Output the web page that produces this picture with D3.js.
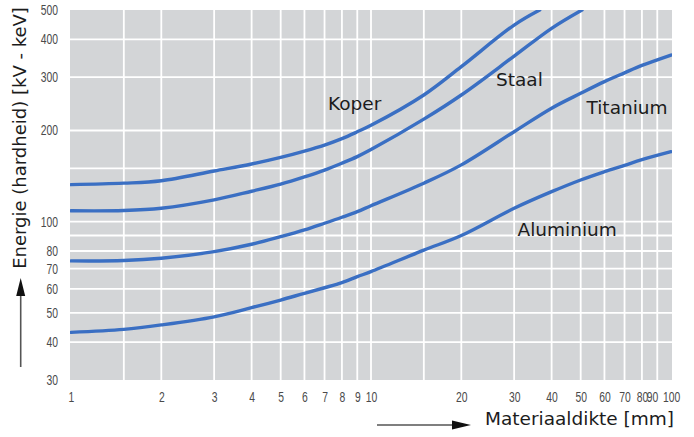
<!DOCTYPE html>
<html>
<head>
<meta charset="utf-8">
<script src="https://cdn.jsdelivr.net/npm/d3@7"></script>
<style>
  html, body { margin: 0; padding: 0; background: #ffffff; }
  svg { display: block; }
</style>
</head>
<body>
<svg id="chart" width="694" height="437"></svg>
<script>
// ---- data ----
const thickness = [1, 1.5, 2, 3, 4, 5, 6, 7, 8, 9, 10, 15, 20, 30, 40, 50, 60, 70, 80, 100];
const aluminium = [43.1, 44.1, 45.6, 48.5, 52, 55.1, 58, 60.5, 62.9, 65.8, 68.4, 80.5, 90, 110.7, 125.6, 137.3, 146.2, 153.5, 160.2, 170.2];
const titanium  = [74.2, 74.4, 75.7, 79.6, 84.2, 89.2, 93.9, 98.8, 103.4, 107.9, 112.9, 134, 154, 198.2, 237, 265.4, 290, 310, 328, 355];
const staalThickness = [1, 1.5, 2, 3, 4, 5, 6, 7, 8, 9, 10, 15, 20, 30, 40, 50.5];
const staal = [108.6, 108.8, 110.7, 118, 126, 133, 140.5, 148, 156, 164, 173, 218, 262, 352, 435, 500];
const koperThickness = [1, 1.5, 2, 3, 4, 5, 6, 7, 8, 9, 10, 15, 20, 30, 36.5];
const koper = [132.5, 134, 136.5, 147, 155, 163, 171, 179, 188, 198, 208, 262, 325, 446, 500];

const xTickValues = [1, 2, 3, 4, 5, 6, 7, 8, 9, 10, 20, 30, 40, 50, 60, 70, 80, 90, 100];
const xGridValues = [1.5, 2, 3, 4, 5, 6, 7, 8, 9, 10, 15, 20, 30, 40, 50, 60, 70, 80, 90];
const yTickValues = [30, 40, 50, 60, 70, 80, 100, 200, 300, 400, 500];
const yGridValues = [40, 50, 60, 70, 80, 90, 100, 150, 200, 300, 400];

const seriesNames = ["Koper", "Staal", "Titanium", "Aluminium"];
const xTitle = "Materiaaldikte [mm]";
const yTitle = "Energie (hardheid) [kV - keV]";

// ---- drawing ----
const svg = d3.select("#chart");
const x = d3.scaleLog().domain([1, 100]).range([71, 671]);
const y = d3.scaleLog().domain([30, 500]).range([380, 10]);

const [x0, x1] = x.range();
const [yb, yt] = y.range();

svg.append("defs").append("clipPath").attr("id", "plotclip")
  .append("rect").attr("x", x0 - 1).attr("y", yt).attr("width", x1 - x0 + 2).attr("height", yb - yt);

svg.append("rect")
  .attr("x", x0 - 1).attr("y", yt)
  .attr("width", x1 - x0 + 2).attr("height", yb - yt)
  .attr("fill", "#d3d5d7");

const grid = svg.append("g").attr("stroke", "#ffffff").attr("stroke-width", 1.8);
grid.selectAll("line.v").data(xGridValues).join("line")
  .attr("class", "v")
  .attr("x1", d => x(d)).attr("x2", d => x(d))
  .attr("y1", yt).attr("y2", yb);
grid.selectAll("line.h").data(yGridValues).join("line")
  .attr("class", "h")
  .attr("x1", x0 - 1).attr("x2", x1 + 1)
  .attr("y1", d => y(d)).attr("y2", d => y(d));

const line = d3.line().x(d => x(d[0])).y(d => y(d[1])).curve(d3.curveCatmullRom.alpha(0.5));
const series = [
  d3.zip(koperThickness, koper),
  d3.zip(staalThickness, staal),
  d3.zip(thickness, titanium),
  d3.zip(thickness, aluminium)
];
svg.append("g").attr("clip-path", "url(#plotclip)")
  .selectAll("path").data(series).join("path")
  .attr("d", line)
  .attr("fill", "none")
  .attr("stroke", "#3a6fc3")
  .attr("stroke-width", 3.4)
  .attr("stroke-linecap", "round");

// axes (condensed-looking tick labels: horizontally squeezed Liberation Sans)
const tickFont = "'Liberation Sans', Arial, sans-serif";
const squeeze = 0.74;
const xAxis = svg.append("g").attr("transform", `translate(0,${yb})`)
  .call(d3.axisBottom(x).tickValues(xTickValues).tickFormat(d3.format("d")).tickSize(0).tickPadding(12));
const yAxis = svg.append("g").attr("transform", `translate(${x0 - 1},0)`)
  .call(d3.axisLeft(y).tickValues(yTickValues).tickFormat(d3.format("d")).tickSize(0).tickPadding(12));
[xAxis, yAxis].forEach(a => {
  a.select(".domain").remove();
  a.selectAll("text")
    .attr("fill", "#4a4a4a")
    .style("font-family", tickFont)
    .style("font-size", "14px");
});
xAxis.selectAll("text").attr("transform", `scale(${squeeze},1)`);
// crowded right end: 90 sits left of its line, 100 right of it (as in the reference)
xAxis.selectAll(".tick").filter(d => d === 90).select("text")
  .attr("text-anchor", "end").attr("x", 0.5 / squeeze);
xAxis.selectAll(".tick").filter(d => d === 100).select("text")
  .attr("text-anchor", "start").attr("x", -8.5 / squeeze);
yAxis.selectAll("text")
  .attr("x", -12 / squeeze)
  .attr("transform", `scale(${squeeze},1)`);

// curve labels
const labelFont = "'DejaVu Sans', 'Noto Sans', sans-serif";
const labelPos = [
  { name: seriesNames[0], lx: 328, ly: 110 },
  { name: seriesNames[1], lx: 496, ly: 86 },
  { name: seriesNames[2], lx: 586.5, ly: 114.3 },
  { name: seriesNames[3], lx: 517.5, ly: 236 }
];
svg.append("g").selectAll("text").data(labelPos).join("text")
  .attr("x", d => d.lx).attr("y", d => d.ly)
  .text(d => d.name)
  .attr("fill", "#1c1c1c")
  .style("font-family", labelFont)
  .style("font-size", "18.5px");

// x axis title + arrow
svg.append("text")
  .attr("x", 485).attr("y", 425)
  .text(xTitle)
  .attr("fill", "#1c1c1c")
  .style("font-family", labelFont)
  .style("font-size", "18.5px");
svg.append("line")
  .attr("x1", 377).attr("x2", 456).attr("y1", 425).attr("y2", 425)
  .attr("stroke", "#555").attr("stroke-width", 1.6);
svg.append("path")
  .attr("d", "M452,420.5 L471,425 L452,429.5 Z")
  .attr("fill", "#111");

// y axis title + arrow
svg.append("text")
  .attr("transform", "translate(26,138) rotate(-90)")
  .attr("text-anchor", "middle")
  .text(yTitle)
  .attr("fill", "#1c1c1c")
  .style("font-family", labelFont)
  .style("font-size", "18px");
svg.append("line")
  .attr("x1", 20.7).attr("x2", 20.7).attr("y1", 367).attr("y2", 292)
  .attr("stroke", "#555").attr("stroke-width", 1.6);
svg.append("path")
  .attr("d", "M16.2,296 L20.7,278 L25.2,296 Z")
  .attr("fill", "#111");
</script>
</body>
</html>
